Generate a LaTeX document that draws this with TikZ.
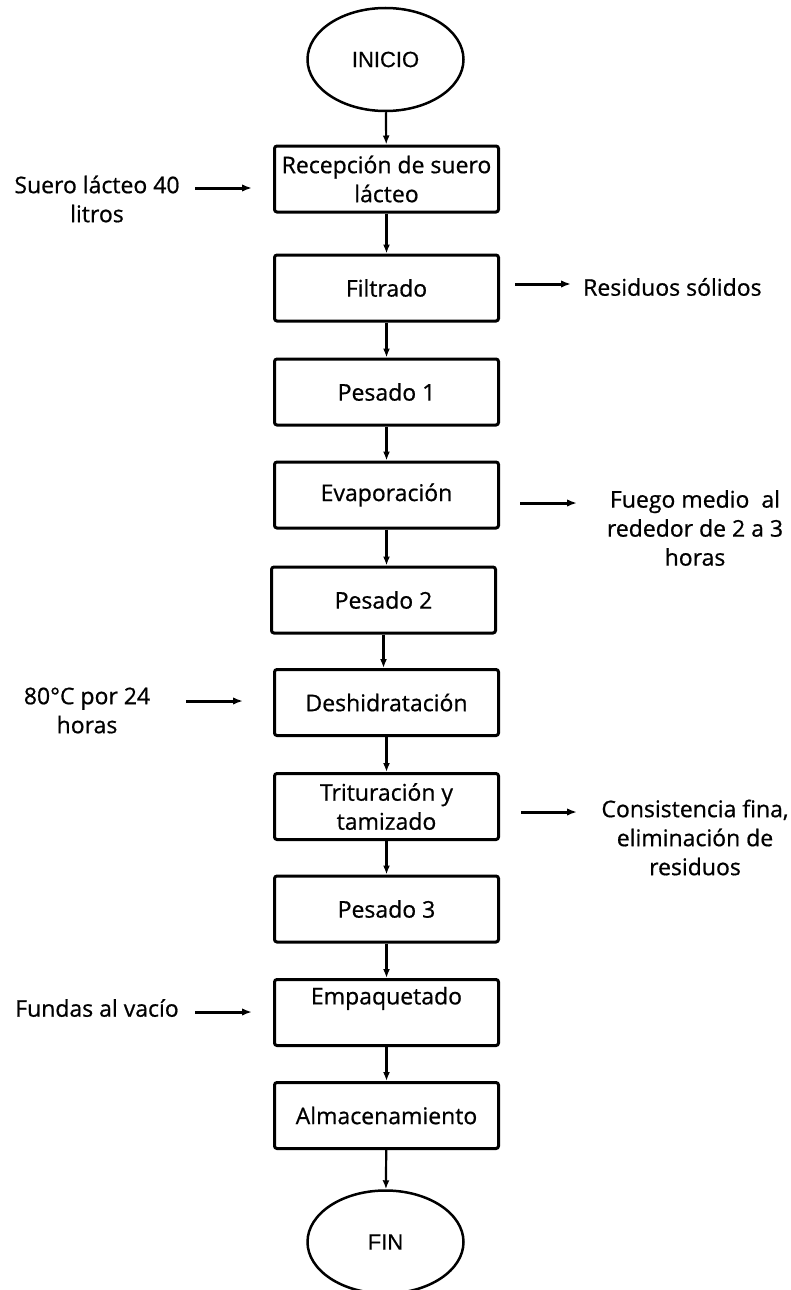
\documentclass[tikz,border=0pt]{standalone}
\usepackage{fontspec}
\setmainfont{Open Sans}[RawFeature={embolden=0.7}]
\newfontfamily\arialf{Liberation Sans}[RawFeature={embolden=0.5}]
\usetikzlibrary{arrows.meta,shapes.geometric}
\tikzset{
  every node/.style={font=\fontsize{23}{29}\selectfont},
  procbox/.style={draw, line width=3pt, rounded corners=2.5pt, minimum width=224pt,
    minimum height=66pt, inner sep=0pt, align=center},
  term/.style={draw, ellipse, line width=2.5pt, minimum width=156pt, minimum height=103pt,
    inner sep=0pt, font=\arialf\fontsize{22}{26}\selectfont},
  sidetext/.style={align=center, inner sep=0pt},
  flow/.style={line width=2.2pt, -{Latex[length=9pt,width=7pt]}},
  side/.style={line width=3pt, -{Latex[length=10pt,width=7.5pt]}}
}
\begin{document}
\begin{tikzpicture}[x=1pt,y=-1pt]
\useasboundingbox (0,0) rectangle (790,1290);
% main column
\node[term] (ini) at (385.5,59.5) {INICIO};
\node[procbox] (rec) at (386.5,179) {Recepción de suero\\lácteo};
\node[procbox] (fil) at (386.5,288) {Filtrado};
\node[procbox] (p1) at (386.5,392) {Pesado 1};
\node[procbox] (eva) at (386.5,495) {Evaporación};
\node[procbox] (p2) at (383.5,600) {Pesado 2};
\node[procbox] (des) at (386.5,702.5) {Deshidratación};
\node[procbox] (tri) at (386.5,806.5) {Trituración y\\tamizado};
\node[procbox] (p3) at (386.5,909) {Pesado 3};
\node[procbox] (emp) at (386.5,1012.5) {Empaquetado\\[-4pt]\strut};
\node[procbox] (alm) at (386.5,1115.5) {Almacenamiento};
\node[term] (fin) at (385.5,1242) {FIN};
% main arrows
\draw[flow] (ini) -- (rec);
\draw[flow] (rec) -- (fil);
\draw[flow] (fil) -- (p1);
\draw[flow] (p1) -- (eva);
\draw[flow] (eva.south) -- (eva.south |- p2.north);
\draw[flow] (p2.south) -- (p2.south |- des.north);
\draw[flow] (des) -- (tri);
\draw[flow] (tri) -- (p3);
\draw[flow] (p3) -- (emp);
\draw[flow] (emp) -- (alm);
\draw[flow] (alm) -- (fin);
% side texts
\node[sidetext] (suero) at (97,199) {Suero lácteo 40\\litros};
\node[sidetext, anchor=west] (resid) at (583,287) {Residuos sólidos};
\node[sidetext] (fuego) at (695,528) {Fuego medio\ \ al\\rededor de 2 a 3\\horas};
\node[sidetext] (temp) at (87,710.5) {80°C por 24\\horas};
\node[sidetext] (cons) at (695,837.5) {Consistencia fina,\\eliminación de\\residuos};
\node[sidetext] (fund) at (97,1008) {Fundas al vacío};
% side arrows
\coordinate (s1a) at (195,188);  \coordinate (s1b) at (252,188);
\coordinate (s2a) at (515,284);  \coordinate (s2b) at (571,284);
\coordinate (s3a) at (520,503);  \coordinate (s3b) at (577,503);
\coordinate (s4a) at (186,701);  \coordinate (s4b) at (243,701);
\coordinate (s5a) at (521,812);  \coordinate (s5b) at (577,812);
\coordinate (s6a) at (195,1012); \coordinate (s6b) at (252,1012);
\draw[side] (s1a) -- (s1b);
\draw[side] (s2a) -- (s2b);
\draw[side] (s3a) -- (s3b);
\draw[side] (s4a) -- (s4b);
\draw[side] (s5a) -- (s5b);
\draw[side] (s6a) -- (s6b);
\end{tikzpicture}
\end{document}
